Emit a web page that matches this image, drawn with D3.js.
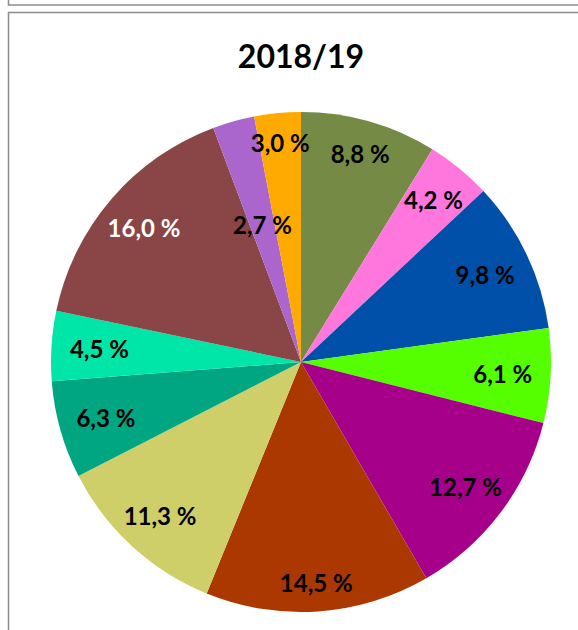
<!DOCTYPE html>
<meta charset="utf-8">
<script src="https://d3js.org/d3.v7.min.js"></script>
<style>
  body { margin: 0; background: #fff; }
</style>
<div id="chart"></div>
<script>
// data, clockwise from 12 o'clock
const shares = [8.8, 4.2, 9.8, 6.1, 12.7, 14.5, 11.3, 6.3, 4.5, 16.0, 2.7, 3.0]
const colours = ["#748A45", "#FF77DD", "#004FA8", "#55FF00", "#A6008A", "#AA3800",
                 "#CFCF6A", "#00A582", "#00E6A9", "#8A4646", "#AA66CC", "#FFAA00"]
const labelColours = ["#000", "#000", "#000", "#000", "#000", "#000",
                      "#000", "#000", "#000", "#fff", "#000", "#000"]
const title = "2018/19"

const width = 578
const height = 630
const cx = 301, cy = 362, radius = 250

const svg = d3.select("#chart")
              .append("svg")
              .attr("width", width)
              .attr("height", height)

// frame of the chart above (only its bottom edge shows) and of this chart
svg.append("rect")
    .attr("x", 8.5).attr("y", -20)
    .attr("width", 600).attr("height", 25)
    .attr("fill", "none").attr("stroke", "#8c8c8c").attr("stroke-width", 1.5)
svg.append("rect")
    .attr("x", 8.5).attr("y", 12.5)
    .attr("width", 600).attr("height", 700)
    .attr("fill", "none").attr("stroke", "#8c8c8c").attr("stroke-width", 1.5)

svg.append("text")
    .attr("x", cx)
    .attr("y", 55)
    .attr("text-anchor", "middle")
    .attr("dominant-baseline", "central")
    .style("font-family", "Lato, 'Open Sans', sans-serif")
    .style("font-weight", "bold")
    .style("font-size", "32px")
    .text(title)

const pie = d3.pie().sort(null).value(d => d)
const arcs = pie(shares)

const arc = d3.arc().innerRadius(0).outerRadius(radius)

const g = svg.append("g")
             .attr("transform", `translate(${cx}, ${cy})`)

g.selectAll("path")
  .data(arcs)
  .join("path")
    .attr("d", arc)
    .attr("fill", (d, i) => colours[i])

// labels sit a bit further in on the sides, where the text is wide;
// the small 2,7 % slice has its label pulled inward, like the spreadsheet did
function labelPos(d, i) {
    const a = (d.startAngle + d.endAngle) / 2
    let r = radius - 28 - 20 * Math.abs(Math.sin(a))
    if (i === 10) r = radius * 0.57
    return [r * Math.sin(a), -r * Math.cos(a)]
}

const fmt = v => v.toFixed(1).replace(".", ",") + " %"

g.selectAll("text")
  .data(arcs)
  .join("text")
    .attr("transform", (d, i) => `translate(${labelPos(d, i)})`)
    .attr("text-anchor", "middle")
    .attr("dominant-baseline", "central")
    .style("font-family", "Lato, 'Open Sans', sans-serif")
    .style("font-weight", "bold")
    .style("font-size", "24px")
    .attr("fill", (d, i) => labelColours[i])
    .text(d => fmt(d.data))
</script>
